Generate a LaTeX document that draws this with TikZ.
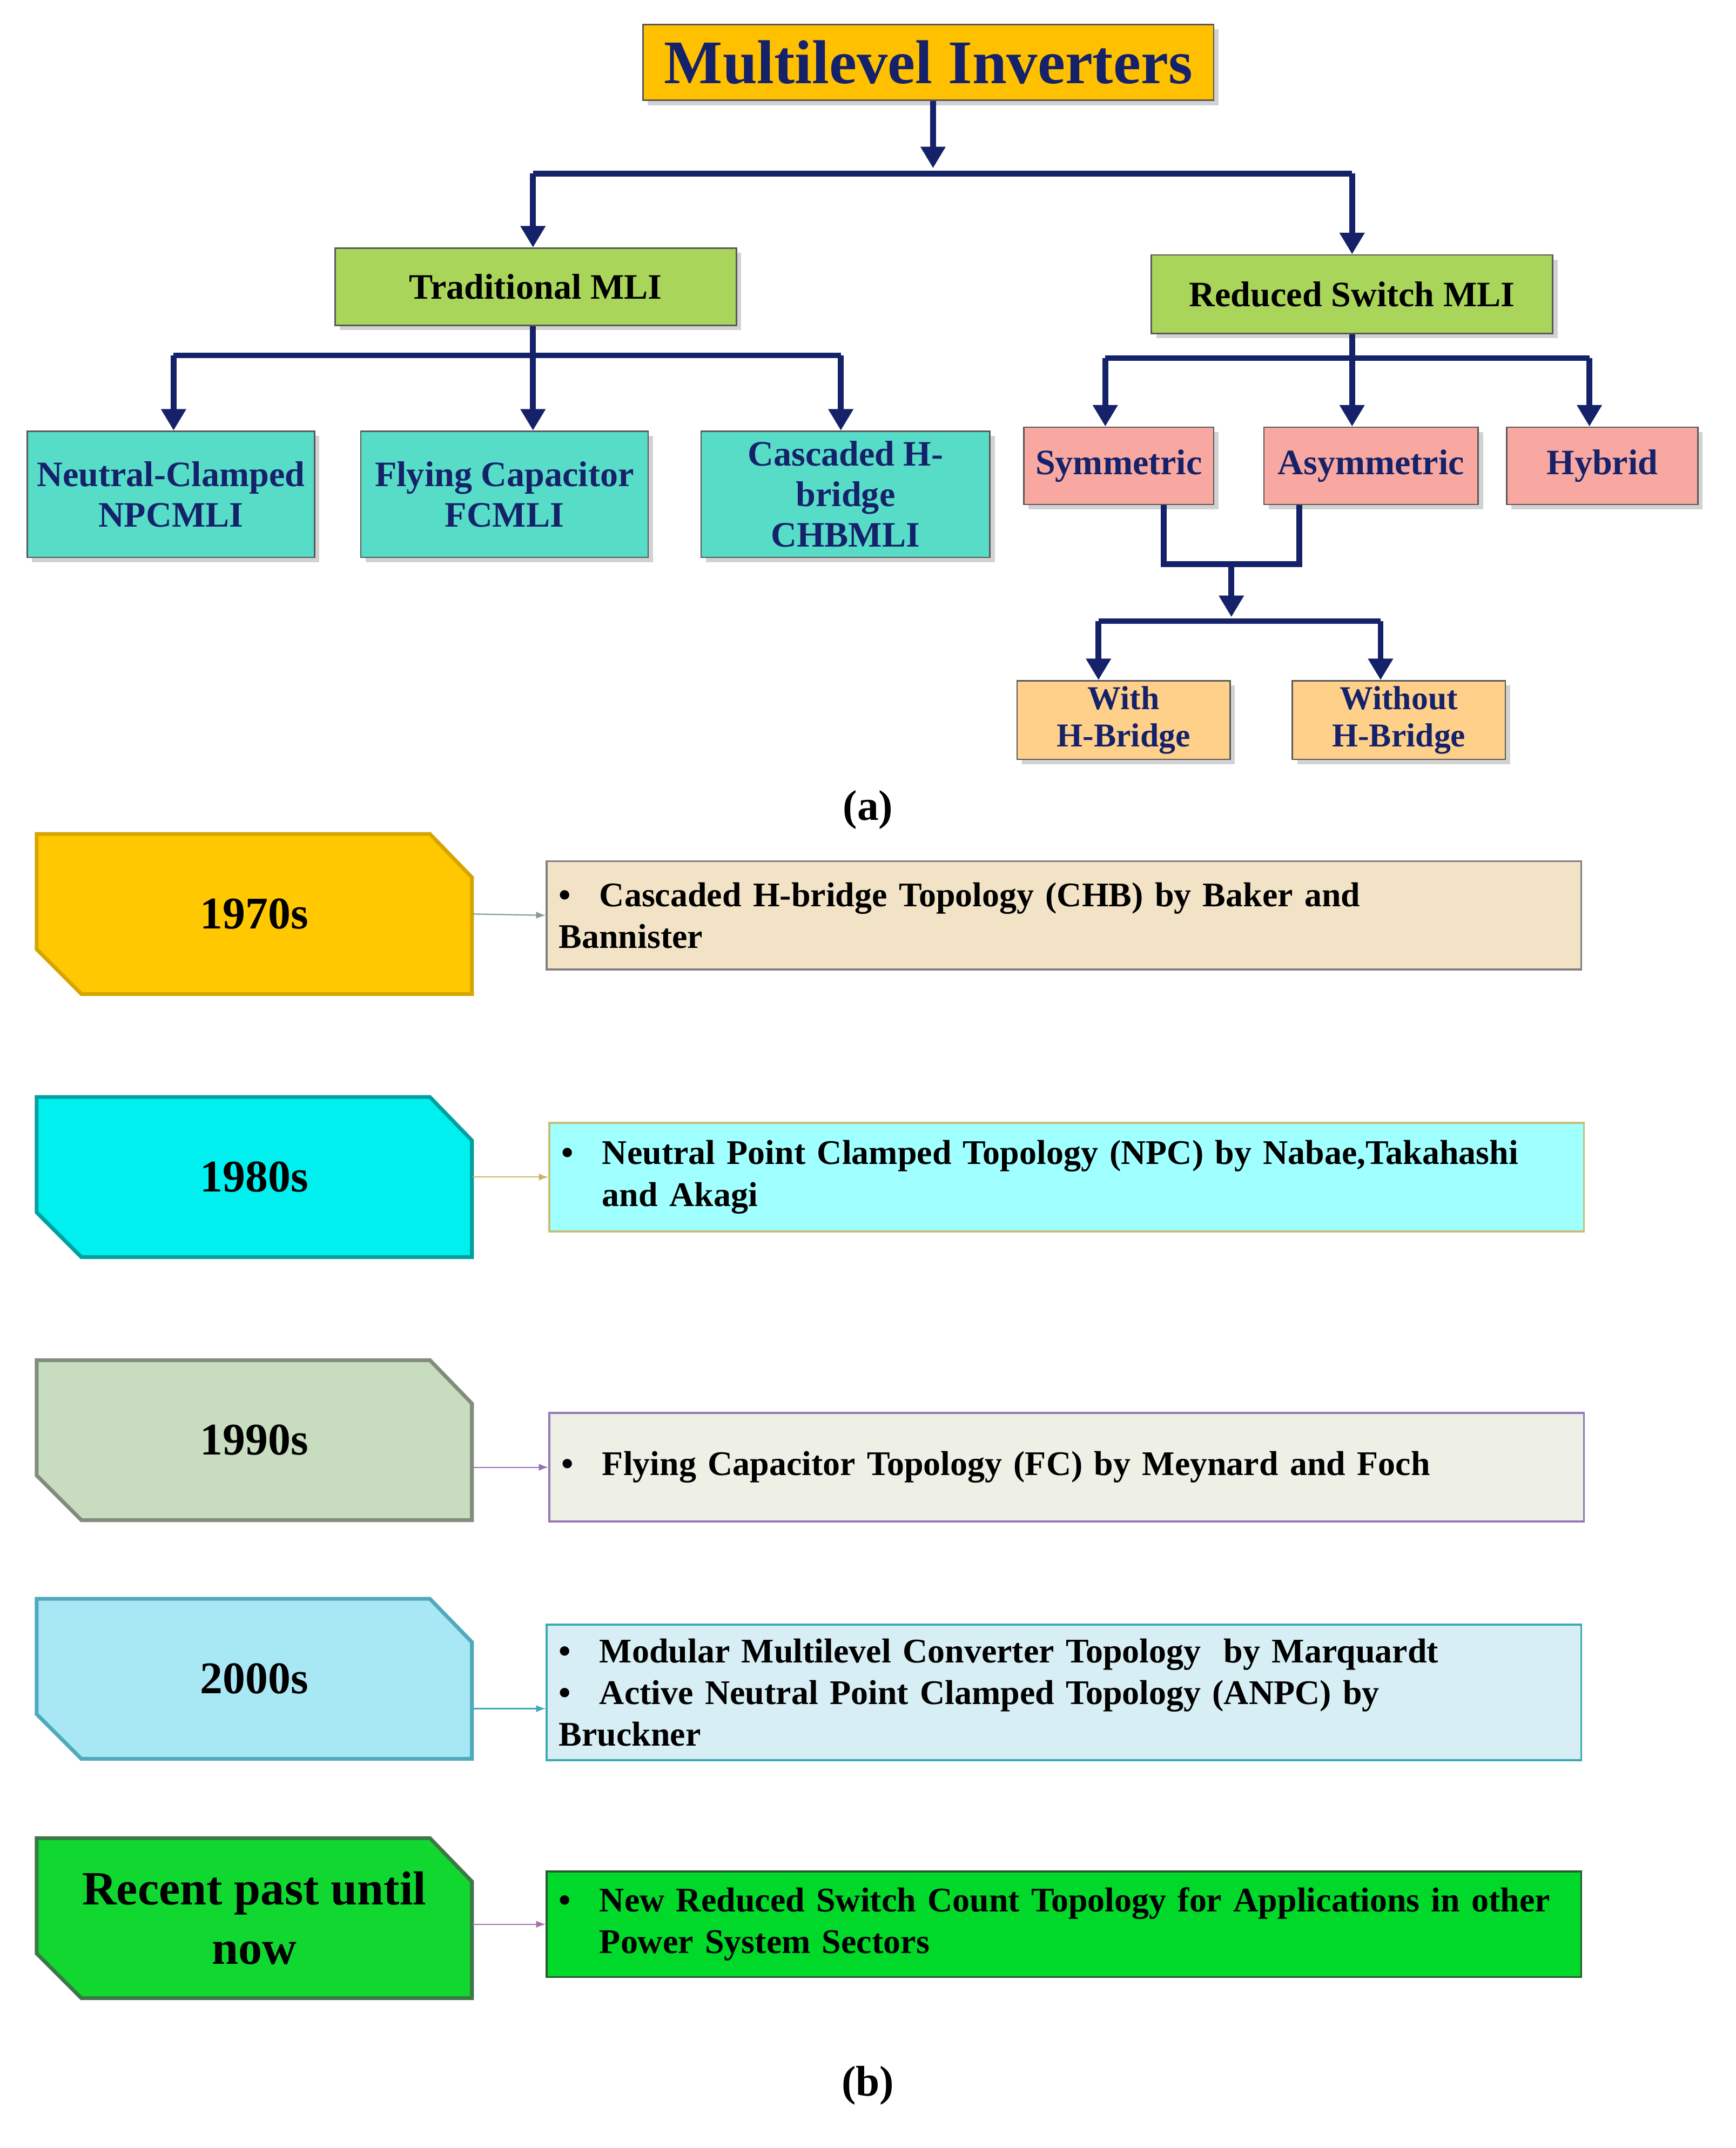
\documentclass[tikz,border=0pt]{standalone}
\usepackage{fontspec}
\setmainfont{Liberation Serif}
\usetikzlibrary{arrows.meta,shadows}
\definecolor{navy}{HTML}{15226A}
\definecolor{ttl}{HTML}{FFC000}
\definecolor{grn}{HTML}{A9D65A}
\definecolor{teal1}{HTML}{57DCC8}
\definecolor{pink1}{HTML}{F8A8A0}
\definecolor{org1}{HTML}{FFD08A}
\newcommand\bl[1]{\hangindent=0.6cm\hangafter=1\noindent\makebox[0.6cm][l]{\textbullet}#1\par}
\newcommand\yrshape[3]{% center y, fill, draw
 \draw[fill=#2,draw=#3,line width=1.6pt] (27,#1-59) -- (317,#1-59) -- (348,#1-27) -- (348,#1+59) -- (60,#1+59) -- (27,#1+26) -- cycle;}
\begin{document}
\begin{tikzpicture}[x=0.02cm,y=-0.02cm,
 box/.style={draw=gray!70!black,line width=0.6pt,align=center,font=\fontsize{15}{17}\selectfont\bfseries,text=navy,inner sep=0pt,drop shadow={opacity=0.35,shadow xshift=2pt,shadow yshift=-2pt}},
 arr/.style={draw=navy,line width=2.4pt,-{Triangle[length=9pt,width=10pt]}},
 ln/.style={draw=navy,line width=2.4pt},
 yr/.style={minimum width=6.42cm,minimum height=2.36cm,inner sep=0pt,font=\fontsize{19}{23}\selectfont\bfseries,align=center},
 rb/.style={minimum width=15.26cm,text width=14.9cm,align=left,inner xsep=0.15cm,font=\fontsize{14.5}{17.5}\selectfont\bfseries,line width=0.8pt},
 con/.style={line width=0.5pt,-{Latex[length=4pt]}}]
\useasboundingbox (0,0) rectangle (1280,1584);
\fill[white] (0,0) rectangle (1280,1584);
\hyphenpenalty=10000
% part a
\node[box,fill=ttl,minimum width=8.42cm,minimum height=1.12cm,font=\fontsize{26}{30}\selectfont\bfseries] (t) at (684.5,46) {Multilevel Inverters};
\node[box,fill=grn,minimum width=5.92cm,minimum height=1.14cm,text=black] (tr) at (395,211.5) {Traditional MLI};
\node[box,fill=grn,minimum width=5.92cm,minimum height=1.16cm,text=black] (rs) at (997,217) {Reduced Switch MLI};
\node[box,fill=teal1,minimum width=4.24cm,minimum height=1.86cm] (npc) at (126,364.5) {Neutral-Clamped\\NPCMLI};
\node[box,fill=teal1,minimum width=4.24cm,minimum height=1.86cm] (fc) at (372,364.5) {Flying Capacitor\\FCMLI};
\node[box,fill=teal1,minimum width=4.26cm,minimum height=1.86cm] (chb) at (623.5,364.5) {Cascaded H-\\bridge\\CHBMLI};
\node[box,fill=pink1,minimum width=2.8cm,minimum height=1.14cm] (sym) at (825,343.5) {Symmetric};
\node[box,fill=pink1,minimum width=3.16cm,minimum height=1.14cm] (asym) at (1011,343.5) {Asymmetric};
\node[box,fill=pink1,minimum width=2.82cm,minimum height=1.14cm] (hyb) at (1181.5,343.5) {Hybrid};
\node[box,fill=org1,minimum width=3.14cm,minimum height=1.16cm,font=\fontsize{14}{15.5}\selectfont\bfseries] (wh) at (828.5,531) {With\\H-Bridge};
\node[box,fill=org1,minimum width=3.14cm,minimum height=1.16cm,font=\fontsize{14}{15.5}\selectfont\bfseries] (woh) at (1031.5,531) {Without\\H-Bridge};
\coordinate (j1) at (688,128);
\draw[arr] (t.south -| j1) -- (688,124);
\draw[ln] (393,128) -- (997,128);
\draw[arr] (393,128) -- (tr.north -| 393,0);
\draw[arr] (997,128) -- (rs.north);
\draw[ln] (tr.south -| 393,0) -- (393,262);
\draw[ln] (128,262) -- (620,262);
\draw[arr] (128,262) -- (npc.north -| 128,0);
\draw[arr] (393,262) -- (fc.north -| 393,0);
\draw[arr] (620,262) -- (chb.north -| 620,0);
\draw[ln] (rs.south) -- (997,264);
\draw[ln] (815,264) -- (1172,264);
\draw[arr] (815,264) -- (sym.north -| 815,0);
\draw[arr] (997,264) -- (asym.north -| 997,0);
\draw[arr] (1172,264) -- (hyb.north -| 1172,0);
\draw[ln] (sym.south -| 858,0) -- (858,416) -- (958,416) -- (asym.south -| 958,0);
\draw[arr] (908,416) -- (908,455);
\draw[ln] (810,458) -- (1018,458);
\draw[arr] (810,458) -- (wh.north -| 810,0);
\draw[arr] (1018,458) -- (woh.north -| 1018,0);
\node[font=\fontsize{18}{20}\selectfont\bfseries] (la) at (640,597) {(a)};
% part b
\yrshape{674}{{rgb,255:red,255;green,200;blue,0}}{{rgb,255:red,215;green,165;blue,0}}
\yrshape{868}{{rgb,255:red,0;green,240;blue,240}}{{rgb,255:red,0;green,160;blue,160}}
\yrshape{1062}{{rgb,255:red,200;green,220;blue,192}}{{rgb,255:red,130;green,140;blue,125}}
\yrshape{1238}{{rgb,255:red,168;green,232;blue,244}}{{rgb,255:red,80;green,170;blue,190}}
\yrshape{1414.5}{{rgb,255:red,16;green,216;blue,48}}{{rgb,255:red,60;green,120;blue,70}}
\node[yr] (y1) at (187.5,674) {1970s};
\node[yr] (y2) at (187.5,868) {1980s};
\node[yr] (y3) at (187.5,1062) {1990s};
\node[yr] (y4) at (187.5,1238) {2000s};
\node[yr,font=\fontsize{20}{25}\selectfont\bfseries] (y5) at (187.5,1414.5) {Recent past until\\now};
\node[rb,fill={rgb,255:red,242;green,227;blue,198},draw=gray,minimum height=1.6cm] (b1) at (784.5,675) {\bl{Cascaded H-bridge Topology (CHB) by Baker and\\Bannister}};
\node[rb,fill={rgb,255:red,160;green,255;blue,255},draw={rgb,255:red,200;green,190;blue,120},minimum height=1.6cm] (b2) at (786.5,868) {\bl{Neutral Point Clamped Topology (NPC) by Nabae,Takahashi and Akagi}};
\node[rb,fill={rgb,255:red,238;green,240;blue,230},draw={rgb,255:red,150;green,120;blue,180},minimum height=1.6cm] (b3) at (786.5,1082) {\bl{Flying Capacitor Topology (FC) by Meynard and Foch}};
\node[rb,fill={rgb,255:red,214;green,238;blue,244},draw={rgb,255:red,60;green,170;blue,180},minimum height=2.0cm] (b4) at (784.5,1248) {\bl{Modular Multilevel Converter Topology \ by Marquardt}\bl{Active Neutral Point Clamped Topology (ANPC) by\\Bruckner}};
\node[rb,fill={rgb,255:red,0;green,216;blue,42},draw={rgb,255:red,40;green,90;blue,50},minimum height=1.56cm] (b5) at (784.5,1419) {\bl{New Reduced Switch Count Topology for Applications in other Power System Sectors}};
\draw[con,draw={rgb,255:red,130;green,160;blue,140}] (y1.east) -- (b1.west);
\draw[con,draw={rgb,255:red,200;green,180;blue,100}] (y2.east) -- (b2.west);
\draw[con,draw={rgb,255:red,150;green,110;blue,180}] (y3.east |- b3.west) -- (b3.west);
\draw[con,draw={rgb,255:red,60;green,170;blue,180}] (y4.east |- 0,1260) -- (b4.west |- 0,1260);
\draw[con,draw={rgb,255:red,170;green,110;blue,170}] (y5.east |- b5.west) -- (b5.west);
\node[font=\fontsize{18}{20}\selectfont\bfseries] (lb) at (640,1538) {(b)};
\end{tikzpicture}
\end{document}
